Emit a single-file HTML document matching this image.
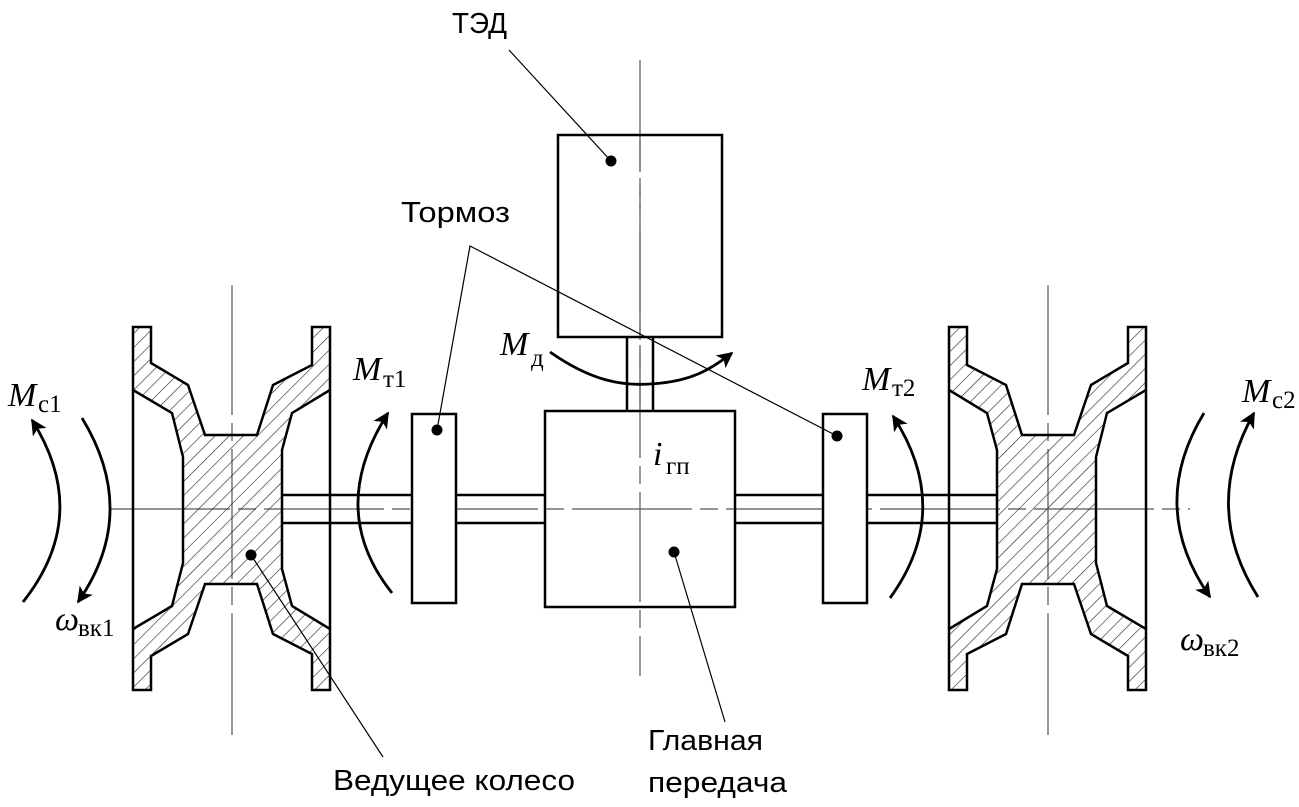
<!DOCTYPE html>
<html><head><meta charset="utf-8"><style>
html,body{margin:0;padding:0;background:#fff;}
svg{display:block;}
.sans{font-family:"Liberation Sans","DejaVu Sans",sans-serif;}
.ser{font-family:"Liberation Serif","DejaVu Serif",serif;font-style:italic;}
.serr{font-family:"Liberation Serif","DejaVu Serif",serif;}
</style></head><body>
<svg width="1299" height="807" viewBox="0 0 1299 807" xmlns="http://www.w3.org/2000/svg">
<defs>
<pattern id="h" patternUnits="userSpaceOnUse" width="10" height="10" patternTransform="rotate(45)">
<line x1="0" y1="0" x2="0" y2="10" stroke="#222" stroke-width="1.2"/>
</pattern>
<marker id="b" viewBox="0 0 10 10" refX="9" refY="5" markerWidth="18" markerHeight="16" markerUnits="userSpaceOnUse" orient="auto">
<path d="M0,0 L10,5 L0,10 L2.5,5 z" fill="#000"/>
</marker>
</defs>

<!-- centre lines -->
<g stroke="#555" stroke-width="1.2" fill="none">
<line x1="110" y1="509" x2="1190" y2="509" stroke-dasharray="120,8,18,8"/>
<line x1="640" y1="60" x2="640" y2="676" stroke-dasharray="110,8,18,8"/>
<line x1="232" y1="285" x2="232" y2="735" stroke-dasharray="130,8,18,8"/>
<line x1="1048" y1="285" x2="1048" y2="735" stroke-dasharray="130,8,18,8"/>
</g>

<!-- shafts -->
<g fill="none" stroke="#000" stroke-width="2.5">
<line x1="282" y1="495" x2="412" y2="495"/><line x1="282" y1="523" x2="412" y2="523"/>
<line x1="456" y1="495" x2="545" y2="495"/><line x1="456" y1="523" x2="545" y2="523"/>
<line x1="735" y1="495" x2="823" y2="495"/><line x1="735" y1="523" x2="823" y2="523"/>
<line x1="867" y1="495" x2="997" y2="495"/><line x1="867" y1="523" x2="997" y2="523"/>
<rect x="412" y="414" width="44" height="189" fill="#fff"/>
<rect x="823" y="414" width="44" height="189" fill="#fff"/>
<rect x="558" y="135" width="164" height="202"/>
<line x1="627" y1="337" x2="627" y2="411"/><line x1="653" y1="337" x2="653" y2="411"/>
<rect x="545" y="411" width="190" height="196"/>
</g>
<g stroke="#555" stroke-width="1.2">
<line x1="640" y1="140" x2="640" y2="172"/>
<line x1="640" y1="185" x2="640" y2="210"/>
<line x1="640" y1="230" x2="640" y2="335"/>
<line x1="640" y1="345" x2="640" y2="370"/><line x1="640" y1="380" x2="640" y2="405"/>
</g>

<!-- left wheel -->
<polygon points="133,327 151,327 151,363 188,385 205,435 257,435 273,385 312,365 312,327 330,327 330,390 292,413 282,450 282,569 292,606 330,629 330,690 312,690 312,654 273,634 257,584 205,584 188,634 151,656 151,690 133,690 133,629 172,606 183,563 183,457 172,413 133,390" fill="url(#h)" stroke="#000" stroke-width="2.5"/>
<line x1="133" y1="390" x2="133" y2="629" stroke="#000" stroke-width="2.5"/>
<line x1="330" y1="390" x2="330" y2="629" stroke="#000" stroke-width="2.5"/>
<!-- right wheel (mirrored coords x'=1279-x) -->
<polygon points="1146,327 1128,327 1128,363 1091,385 1074,435 1022,435 1006,385 967,365 967,327 949,327 949,390 987,413 997,450 997,569 987,606 949,629 949,690 967,690 967,654 1006,634 1022,584 1074,584 1091,634 1128,656 1128,690 1146,690 1146,629 1107,606 1096,563 1096,457 1107,413 1146,390" fill="url(#h)" stroke="#000" stroke-width="2.5"/>
<line x1="1146" y1="390" x2="1146" y2="629" stroke="#000" stroke-width="2.5"/>
<line x1="949" y1="390" x2="949" y2="629" stroke="#000" stroke-width="2.5"/>

<!-- leaders -->
<g stroke="#000" stroke-width="1.2" fill="none">
<line x1="509" y1="50" x2="611" y2="161"/>
<polyline points="437,430 470,246 837,436"/>
<line x1="674" y1="552" x2="725" y2="722"/>
<line x1="251" y1="555" x2="383" y2="757"/>
</g>
<g fill="#000">
<circle cx="611" cy="161" r="5.5"/><circle cx="437" cy="430" r="5.5"/><circle cx="837" cy="436" r="5.5"/>
<circle cx="674" cy="552" r="5.5"/><circle cx="251" cy="555" r="5.5"/>
</g>

<!-- arc arrows -->
<g stroke="#000" stroke-width="2.8" fill="none">
<path d="M23,602 Q92,515 32,420" marker-end="url(#b)"/>
<path d="M82,418 Q140,513 78,602" marker-end="url(#b)"/>
<path d="M392,593 Q326,510 388,413" marker-end="url(#b)"/>
<path d="M890,598 Q954,510 893,416" marker-end="url(#b)"/>
<path d="M1204,413 Q1147,507 1210,597" marker-end="url(#b)"/>
<path d="M1258,597 Q1201,507 1254,413" marker-end="url(#b)"/>
<path d="M550,352 C590,380 620,386 650,384 C690,382 710,370 732,353" marker-end="url(#b)"/>
</g>

<!-- labels -->
<g class="sans" font-size="29" fill="#000">
<text x="452" y="33" textLength="55" lengthAdjust="spacingAndGlyphs">ТЭД</text>
<text x="401" y="222" textLength="109" lengthAdjust="spacingAndGlyphs">Тормоз</text>
<text x="333" y="790" textLength="242" lengthAdjust="spacingAndGlyphs">Ведущее колесо</text>
<text x="648" y="750" textLength="115" lengthAdjust="spacingAndGlyphs">Главная</text>
<text x="648" y="792" textLength="139" lengthAdjust="spacingAndGlyphs">передача</text>
</g>
<g fill="#000">
<text class="ser" x="8" y="406" font-size="34">M</text><text class="serr" x="38" y="412" font-size="25">с1</text>
<text class="ser" x="55" y="630" font-size="34">ω</text><text class="serr" x="78" y="636" font-size="25">вк1</text>
<text class="ser" x="353" y="380" font-size="34">M</text><text class="serr" x="383" y="387" font-size="25">т1</text>
<text class="ser" x="862" y="390" font-size="34">M</text><text class="serr" x="892" y="396" font-size="25">т2</text>
<text class="ser" x="1242" y="402" font-size="34">M</text><text class="serr" x="1272" y="408" font-size="25">с2</text>
<text class="ser" x="1180" y="650" font-size="34">ω</text><text class="serr" x="1203" y="656" font-size="25">вк2</text>
<text class="ser" x="500" y="355" font-size="34">M</text><text class="serr" x="531" y="366" font-size="25">д</text>
<text class="ser" x="653" y="465" font-size="34">i</text><text class="serr" x="666" y="474" font-size="25">гп</text>
</g>
</svg>
</body></html>
